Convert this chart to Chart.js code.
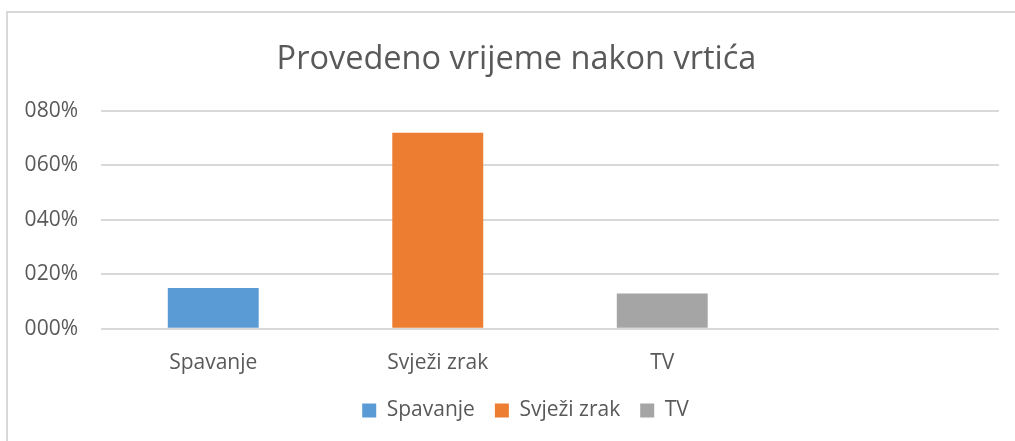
<!DOCTYPE html>
<html>
<head>
<meta charset="utf-8">
<script src="https://cdn.jsdelivr.net/npm/chart.js@4"></script>
<style>
  html, body { margin: 0; padding: 0; background: #fff; }
  #wrap { position: relative; width: 1015px; height: 441px; }
  #frame {
    position: absolute; left: 6px; top: 11px; right: -10px; bottom: -10px;
    border-left: 2px solid #d9d9d9; border-top: 2px solid #d9d9d9;
  }
  canvas { position: absolute; left: 0; top: 0; }
</style>
</head>
<body>
<div id="wrap">
  <div id="frame"></div>
  <canvas id="chart" width="1015" height="441"></canvas>
</div>
<script>
const categories = ["Spavanje", "Svježi zrak", "TV", ""];
const series = ["Spavanje", "Svježi zrak", "TV"];
const values = [0.15, 0.72, 0.13];
const yTickLabels = ["000%", "020%", "040%", "060%", "080%"];

const colors = ["#5b9bd5", "#ed7d31", "#a5a5a5"];
const font = "'Open Sans', 'Noto Sans', sans-serif";

// one dataset per series, each only filled at its own category
const datasets = series.map((name, i) => ({
  label: name,
  data: categories.map((c, j) => (j === i ? values[i] : null)),
  backgroundColor: colors[i],
  barPercentage: 0.405,
  categoryPercentage: 1
}));

// title and legend sit a little off center in the original
const shiftBoxes = {
  id: "shiftBoxes",
  afterLayout(chart) {
    chart.legend.left += 26;
    chart.legend.right += 26;
    chart.legend.top -= 10;
    chart.legend.bottom -= 10;
    chart.titleBlock.left += 17;
    chart.titleBlock.right += 17;
  }
};

const ctx = document.getElementById("chart").getContext("2d");
new Chart(ctx, {
  type: "bar",
  data: { labels: categories, datasets },
  plugins: [shiftBoxes],
  options: {
    responsive: false,
    animation: false,
    grouped: false,
    layout: { padding: { left: 0, right: 16, top: 0, bottom: 0 } },
    plugins: {
      title: {
        display: true,
        text: "Provedeno vrijeme nakon vrtića",
        color: "#595959",
        font: { family: font, size: 32.5, weight: "normal" },
        padding: { top: 40, bottom: 32 }
      },
      legend: {
        position: "bottom",
        labels: {
          color: "#595959",
          font: { family: font, size: 21 },
          boxWidth: 14,
          boxHeight: 14,
          padding: 20
        }
      },
      tooltip: { enabled: false }
    },
    scales: {
      x: {
        grid: { display: false },
        border: { display: false },
        ticks: {
          color: "#595959",
          font: { family: font, size: 21 },
          padding: 14,
          maxRotation: 0
        }
      },
      y: {
        min: 0,
        max: 0.8,
        afterFit(scale) { scale.width = 101; },
        ticks: {
          stepSize: 0.2,
          color: "#595959",
          font: { family: font, size: 21 },
          padding: 23,
          callback: (v, i) => yTickLabels[i]
        },
        grid: { color: "#d9d9d9", lineWidth: 2, drawTicks: false },
        border: { display: false }
      }
    }
  }
});
</script>
</body>
</html>
